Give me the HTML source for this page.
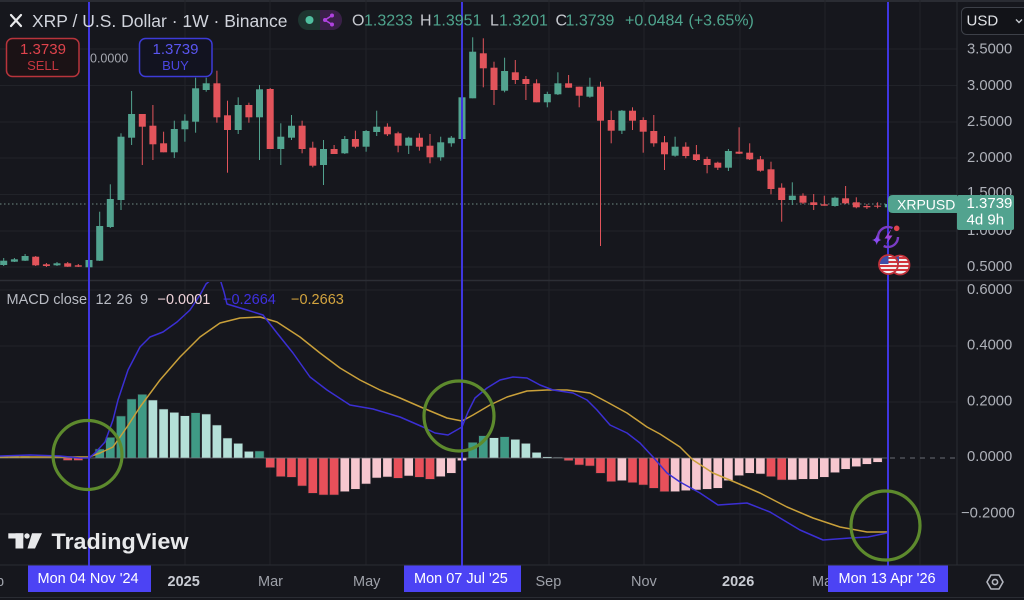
<!DOCTYPE html>
<html>
<head>
<meta charset="utf-8">
<style>
html,body{margin:0;padding:0;background:#16171d;}
body{width:1024px;height:600px;overflow:hidden;font-family:"Liberation Sans",sans-serif;}
svg{display:block;}
text{font-family:"Liberation Sans",sans-serif;dominant-baseline:central;}
</style>
</head>
<body>
<svg width="1024" height="600" viewBox="0 0 1024 600" xmlns="http://www.w3.org/2000/svg">
<defs>
<clipPath id="macdclip"><rect x="0" y="282" width="957" height="283"/></clipPath>
<clipPath id="flag1"><circle cx="888.5" cy="264.5" r="9"/></clipPath>
<clipPath id="flag2"><circle cx="900" cy="265" r="9"/></clipPath>
</defs>
<rect x="0" y="0" width="1024" height="600" fill="#16171d"/>
<rect x="0" y="0" width="1024" height="2" fill="#2a2c33"/>

<!-- grid -->
<g stroke="#212329" stroke-width="1">
<line x1="185" y1="0" x2="185" y2="565"/>
<line x1="270" y1="0" x2="270" y2="565"/>
<line x1="366" y1="0" x2="366" y2="565"/>
<line x1="549" y1="0" x2="549" y2="565"/>
<line x1="644" y1="0" x2="644" y2="565"/>
<line x1="740" y1="0" x2="740" y2="565"/>
<line x1="825" y1="0" x2="825" y2="565"/>
<line x1="920" y1="0" x2="920" y2="565"/>
<line x1="0" y1="49" x2="957" y2="49"/>
<line x1="0" y1="85.5" x2="957" y2="85.5"/>
<line x1="0" y1="122" x2="957" y2="122"/>
<line x1="0" y1="158" x2="957" y2="158"/>
<line x1="0" y1="194.5" x2="957" y2="194.5"/>
<line x1="0" y1="231" x2="957" y2="231"/>
<line x1="0" y1="267" x2="957" y2="267"/>
<line x1="0" y1="290" x2="957" y2="290"/>
<line x1="0" y1="346" x2="957" y2="346"/>
<line x1="0" y1="402" x2="957" y2="402"/>
<line x1="0" y1="514" x2="957" y2="514"/>
</g>
<line x1="0" y1="280.5" x2="1024" y2="280.5" stroke="#2c2e35" stroke-width="1.5"/>
<line x1="957" y1="0" x2="957" y2="565" stroke="#2a2c33" stroke-width="1"/>
<line x1="0" y1="565" x2="1024" y2="565" stroke="#2a2c33" stroke-width="1"/>
<line x1="0" y1="597.5" x2="1024" y2="597.5" stroke="#2a2c33" stroke-width="1"/>

<line x1="0" y1="204" x2="888" y2="204" stroke="#6f8a83" stroke-width="1" stroke-dasharray="1.5,2.5"/>

<!-- green candles -->
<g fill="#52a38f">
<rect x="3.2" y="258" width="1" height="8"/><rect x="0.2" y="260.7" width="7" height="4.3"/>
<rect x="13.9" y="258" width="1" height="4"/><rect x="10.9" y="259.3" width="7" height="2.4"/>
<rect x="24.6" y="254" width="1" height="7"/><rect x="21.6" y="256" width="7" height="4.7"/>
<rect x="56.5" y="262" width="1" height="4"/><rect x="53.5" y="263.3" width="7" height="2"/>
<rect x="88.5" y="259" width="1" height="9"/><rect x="85.5" y="260" width="7" height="7.3"/>
<rect x="99.2" y="211.7" width="1" height="49.3"/><rect x="96.2" y="226" width="7" height="34.7"/>
<rect x="109.8" y="184.3" width="1" height="43.7"/><rect x="106.8" y="199" width="7" height="28"/>
<rect x="120.5" y="133.3" width="1" height="76.7"/><rect x="117.5" y="136.7" width="7" height="63.3"/>
<rect x="131.1" y="91" width="1" height="54"/><rect x="128.1" y="114" width="7" height="23.7"/>
<rect x="173.8" y="120.7" width="1" height="37.3"/><rect x="170.8" y="129" width="7" height="23.3"/>
<rect x="184.4" y="114.3" width="1" height="27.4"/><rect x="181.4" y="120.7" width="7" height="8.6"/>
<rect x="195.1" y="77.7" width="1" height="55"/><rect x="192.1" y="88.3" width="7" height="33.4"/>
<rect x="205.7" y="77.7" width="1" height="14"/><rect x="202.7" y="83.3" width="7" height="6.7"/>
<rect x="237.7" y="97.3" width="1" height="36.7"/><rect x="234.7" y="105" width="7" height="25"/>
<rect x="259" y="85" width="1" height="75"/><rect x="256" y="89.3" width="7" height="28"/>
<rect x="280.3" y="123.3" width="1" height="41.7"/><rect x="277.3" y="136.7" width="7" height="12.3"/>
<rect x="291" y="115" width="1" height="25"/><rect x="288" y="125.7" width="7" height="12"/>
<rect x="323" y="140" width="1" height="45"/><rect x="320" y="149" width="7" height="16"/>
<rect x="344.3" y="136" width="1" height="18"/><rect x="341.3" y="139" width="7" height="14.3"/>
<rect x="365.6" y="130" width="1" height="21.7"/><rect x="362.6" y="131" width="7" height="15.7"/>
<rect x="376.2" y="110.7" width="1" height="25.3"/><rect x="373.2" y="126.7" width="7" height="5.3"/>
<rect x="408.2" y="136.7" width="1" height="17.3"/><rect x="405.2" y="137.7" width="7" height="8"/>
<rect x="440.2" y="136.7" width="1" height="24"/><rect x="437.2" y="142.3" width="7" height="15"/>
<rect x="450.8" y="136" width="1" height="10.7"/><rect x="447.8" y="137.7" width="7" height="5.6"/>
<rect x="461.5" y="86.7" width="1" height="52.3"/><rect x="458.5" y="97.3" width="7" height="41.7"/>
<rect x="472.2" y="37.3" width="1" height="61"/><rect x="469.2" y="51.7" width="7" height="46.6"/>
<rect x="504.1" y="57.7" width="1" height="34.6"/><rect x="501.1" y="71" width="7" height="19.7"/>
<rect x="546.8" y="91.7" width="1" height="15.6"/><rect x="543.8" y="94" width="7" height="8.3"/>
<rect x="557.4" y="72.3" width="1" height="22.7"/><rect x="554.4" y="83.3" width="7" height="11"/>
<rect x="589.4" y="77.7" width="1" height="20"/><rect x="586.4" y="86.7" width="7" height="10"/>
<rect x="621.4" y="110" width="1" height="24"/><rect x="618.4" y="110.7" width="7" height="20"/>
<rect x="674.6" y="136.7" width="1" height="20"/><rect x="671.6" y="146.7" width="7" height="9"/>
<rect x="727.9" y="149" width="1" height="22"/><rect x="724.9" y="151" width="7" height="16.7"/>
<rect x="791.8" y="182.3" width="1" height="22.7"/><rect x="788.8" y="195.7" width="7" height="4.3"/>
<rect x="834.5" y="196.7" width="1" height="10"/><rect x="831.5" y="197.7" width="7" height="8.3"/>
<rect x="887.8" y="204" width="1" height="4"/><rect x="884.8" y="204" width="7" height="3.3"/>
</g>
<!-- red candles -->
<g fill="#e2545b">
<rect x="35.2" y="256" width="1" height="10"/><rect x="32.2" y="256.7" width="7" height="8.6"/>
<rect x="45.9" y="263" width="1" height="4"/><rect x="42.9" y="264.3" width="7" height="1.7"/>
<rect x="67.2" y="262" width="1" height="5"/><rect x="64.2" y="263.3" width="7" height="3.4"/>
<rect x="77.8" y="264" width="1" height="3"/><rect x="74.8" y="265.3" width="7" height="1.4"/>
<rect x="141.8" y="114" width="1" height="51"/><rect x="138.8" y="114" width="7" height="12.7"/>
<rect x="152.4" y="105" width="1" height="55"/><rect x="149.4" y="125.7" width="7" height="18.6"/>
<rect x="163.1" y="131.7" width="1" height="20.6"/><rect x="160.1" y="143.3" width="7" height="9"/>
<rect x="216.4" y="70.7" width="1" height="52"/><rect x="213.4" y="83.3" width="7" height="34"/>
<rect x="227" y="100.7" width="1" height="72"/><rect x="224" y="115.3" width="7" height="14.7"/>
<rect x="248.4" y="102.7" width="1" height="20"/><rect x="245.4" y="105" width="7" height="12.3"/>
<rect x="269.7" y="88" width="1" height="61"/><rect x="266.7" y="89" width="7" height="60"/>
<rect x="301.6" y="120.7" width="1" height="32.6"/><rect x="298.6" y="125.7" width="7" height="23.3"/>
<rect x="312.3" y="141.7" width="1" height="25.6"/><rect x="309.3" y="147.7" width="7" height="18"/>
<rect x="333.6" y="145" width="1" height="9"/><rect x="330.6" y="149" width="7" height="5"/>
<rect x="354.9" y="130.7" width="1" height="17.6"/><rect x="351.9" y="139" width="7" height="7.7"/>
<rect x="386.9" y="123.3" width="1" height="12.7"/><rect x="383.9" y="126.7" width="7" height="7.6"/>
<rect x="397.6" y="131.7" width="1" height="20.6"/><rect x="394.6" y="133.3" width="7" height="12.4"/>
<rect x="418.9" y="133.3" width="1" height="17.4"/><rect x="415.9" y="137.7" width="7" height="9"/>
<rect x="429.5" y="134" width="1" height="29.3"/><rect x="426.5" y="145.7" width="7" height="11.6"/>
<rect x="482.8" y="38.3" width="1" height="49"/><rect x="479.8" y="53.3" width="7" height="15"/>
<rect x="493.5" y="61.7" width="1" height="43.3"/><rect x="490.5" y="67.7" width="7" height="22.3"/>
<rect x="514.8" y="60" width="1" height="24"/><rect x="511.8" y="72.3" width="7" height="7.7"/>
<rect x="525.4" y="76" width="1" height="24"/><rect x="522.4" y="79" width="7" height="5"/>
<rect x="536.1" y="79.3" width="1" height="23"/><rect x="533.1" y="83.3" width="7" height="19"/>
<rect x="568.1" y="75" width="1" height="12.7"/><rect x="565.1" y="83.3" width="7" height="4.4"/>
<rect x="578.7" y="86.7" width="1" height="20.6"/><rect x="575.7" y="86.7" width="7" height="9"/>
<rect x="600" y="81.7" width="1" height="164.3"/><rect x="597" y="86.7" width="7" height="34"/>
<rect x="610.7" y="110.7" width="1" height="32.6"/><rect x="607.7" y="120" width="7" height="10.7"/>
<rect x="632" y="107.3" width="1" height="22.7"/><rect x="629" y="110.7" width="7" height="10"/>
<rect x="642.7" y="117.3" width="1" height="35.4"/><rect x="639.7" y="120" width="7" height="11.7"/>
<rect x="653.3" y="115" width="1" height="31.7"/><rect x="650.3" y="131" width="7" height="12.3"/>
<rect x="664" y="136" width="1" height="34"/><rect x="661" y="142.3" width="7" height="12"/>
<rect x="685.3" y="142.3" width="1" height="16"/><rect x="682.3" y="146.7" width="7" height="9.3"/>
<rect x="695.9" y="145" width="1" height="16"/><rect x="692.9" y="154.3" width="7" height="5.7"/>
<rect x="706.6" y="156.7" width="1" height="16.6"/><rect x="703.6" y="159" width="7" height="6"/>
<rect x="717.3" y="161.7" width="1" height="8.3"/><rect x="714.3" y="162.7" width="7" height="5"/>
<rect x="738.6" y="127.3" width="1" height="26.7"/><rect x="735.6" y="151.7" width="7" height="2"/>
<rect x="749.2" y="143.3" width="1" height="16.7"/><rect x="746.2" y="152.7" width="7" height="6.6"/>
<rect x="759.9" y="156" width="1" height="15.7"/><rect x="756.9" y="159.3" width="7" height="11.4"/>
<rect x="770.5" y="161.7" width="1" height="32.6"/><rect x="767.5" y="169.3" width="7" height="19.7"/>
<rect x="781.2" y="183.3" width="1" height="38.4"/><rect x="778.2" y="187.7" width="7" height="12.3"/>
<rect x="802.5" y="193.3" width="1" height="10.7"/><rect x="799.5" y="195.7" width="7" height="7"/>
<rect x="813.2" y="194" width="1" height="16"/><rect x="810.2" y="202.3" width="7" height="2.7"/>
<rect x="823.8" y="195.7" width="1" height="10"/><rect x="820.8" y="204.3" width="7" height="1.4"/>
<rect x="845.1" y="186" width="1" height="18"/><rect x="842.1" y="198.3" width="7" height="5"/>
<rect x="855.8" y="197.3" width="1" height="11"/><rect x="852.8" y="202.3" width="7" height="5"/>
<rect x="866.4" y="204" width="1" height="5"/><rect x="863.4" y="206" width="7" height="1.3"/>
<rect x="877.1" y="202.3" width="1" height="6"/><rect x="874.1" y="205.7" width="7" height="1"/>
</g>

<!-- MACD histogram -->
<g stroke="#2a2b31" stroke-width="0.6">
<g fill="#3f9a85">
<rect x="-0.9" y="457" width="9.2" height="1"/>
<rect x="9.8" y="455.5" width="9.2" height="2.5"/>
<rect x="20.5" y="456" width="9.2" height="2"/>
<rect x="95.1" y="449" width="9.2" height="9"/>
<rect x="105.7" y="437.3" width="9.2" height="20.7"/>
<rect x="116.4" y="416" width="9.2" height="42"/>
<rect x="127" y="399" width="9.2" height="59"/>
<rect x="137.7" y="394.3" width="9.2" height="63.7"/>
<rect x="191" y="412.7" width="9.2" height="45.3"/>
<rect x="254.9" y="451" width="9.2" height="7"/>
<rect x="468.1" y="442.3" width="9.2" height="15.7"/>
<rect x="478.7" y="435.7" width="9.2" height="22.3"/>
<rect x="500" y="436.7" width="9.2" height="21.3"/>
</g>
<g fill="#b4e0d8">
<rect x="148.3" y="400" width="9.2" height="58"/>
<rect x="159" y="409" width="9.2" height="49"/>
<rect x="169.7" y="412.3" width="9.2" height="45.7"/>
<rect x="180.3" y="415.7" width="9.2" height="42.3"/>
<rect x="201.6" y="414" width="9.2" height="44"/>
<rect x="212.3" y="425" width="9.2" height="33"/>
<rect x="222.9" y="438" width="9.2" height="20"/>
<rect x="233.6" y="443.3" width="9.2" height="14.7"/>
<rect x="244.3" y="451.3" width="9.2" height="6.7"/>
<rect x="489.4" y="437.7" width="9.2" height="20.3"/>
<rect x="510.7" y="439.3" width="9.2" height="18.7"/>
<rect x="521.3" y="443.3" width="9.2" height="14.7"/>
<rect x="532" y="452.3" width="9.2" height="5.7"/>
<rect x="542.7" y="456.7" width="9.2" height="1.3"/>
<rect x="553.3" y="457.2" width="9.2" height="0.8"/>
</g>
<g fill="#e8505a">
<rect x="63.1" y="458" width="9.2" height="2.5"/>
<rect x="73.7" y="458" width="9.2" height="2.5"/>
<rect x="265.6" y="458" width="9.2" height="9.7"/>
<rect x="276.2" y="458" width="9.2" height="18.7"/>
<rect x="286.9" y="458" width="9.2" height="19.3"/>
<rect x="297.5" y="458" width="9.2" height="28"/>
<rect x="308.2" y="458" width="9.2" height="35.3"/>
<rect x="318.9" y="458" width="9.2" height="37"/>
<rect x="329.5" y="458" width="9.2" height="37"/>
<rect x="393.5" y="458" width="9.2" height="20.3"/>
<rect x="414.8" y="458" width="9.2" height="19.3"/>
<rect x="425.4" y="458" width="9.2" height="21.3"/>
<rect x="564" y="458" width="9.2" height="2.7"/>
<rect x="574.6" y="458" width="9.2" height="7"/>
<rect x="585.3" y="458" width="9.2" height="8"/>
<rect x="595.9" y="458" width="9.2" height="15.3"/>
<rect x="606.6" y="458" width="9.2" height="23.7"/>
<rect x="627.9" y="458" width="9.2" height="24.7"/>
<rect x="638.6" y="458" width="9.2" height="27"/>
<rect x="649.2" y="458" width="9.2" height="30.3"/>
<rect x="659.9" y="458" width="9.2" height="33.7"/>
<rect x="766.4" y="458" width="9.2" height="18.7"/>
<rect x="777.1" y="458" width="9.2" height="22"/>
</g>
<g fill="#f7c7cf">
<rect x="340.2" y="458" width="9.2" height="33.7"/>
<rect x="350.8" y="458" width="9.2" height="31.3"/>
<rect x="361.5" y="458" width="9.2" height="26"/>
<rect x="372.1" y="458" width="9.2" height="20"/>
<rect x="382.8" y="458" width="9.2" height="19"/>
<rect x="404.1" y="458" width="9.2" height="18"/>
<rect x="436.1" y="458" width="9.2" height="18.7"/>
<rect x="446.7" y="458" width="9.2" height="15.3"/>
<rect x="457.4" y="458" width="9.2" height="2.7"/>
<rect x="617.3" y="458" width="9.2" height="22.7"/>
<rect x="670.5" y="458" width="9.2" height="33.7"/>
<rect x="681.2" y="458" width="9.2" height="32.7"/>
<rect x="691.8" y="458" width="9.2" height="32"/>
<rect x="702.5" y="458" width="9.2" height="31.3"/>
<rect x="713.2" y="458" width="9.2" height="30.3"/>
<rect x="723.8" y="458" width="9.2" height="22.7"/>
<rect x="734.5" y="458" width="9.2" height="17.7"/>
<rect x="745.1" y="458" width="9.2" height="15.3"/>
<rect x="755.8" y="458" width="9.2" height="16"/>
<rect x="787.7" y="458" width="9.2" height="22"/>
<rect x="798.4" y="458" width="9.2" height="21.3"/>
<rect x="809.1" y="458" width="9.2" height="21.3"/>
<rect x="819.7" y="458" width="9.2" height="19.3"/>
<rect x="830.4" y="458" width="9.2" height="14.7"/>
<rect x="841" y="458" width="9.2" height="11.3"/>
<rect x="851.7" y="458" width="9.2" height="8.7"/>
<rect x="862.3" y="458" width="9.2" height="6.3"/>
<rect x="873" y="458" width="9.2" height="4.3"/>
</g>
</g>
<line x1="0" y1="458" x2="888" y2="458" stroke="#cfd2d8" stroke-width="1" opacity="0.35"/>
<line x1="890" y1="458" x2="957" y2="458" stroke="#6a6d75" stroke-width="1" stroke-dasharray="5,5"/>

<!-- MACD & signal lines -->
<g clip-path="url(#macdclip)" fill="none" stroke-width="1.5" stroke-linejoin="round">
<polyline stroke="#c9a03a" points="0,457 60,457 89,457 100,453 113,447 127,427 140,407 160,380 180,357 200,337 220,323 240,318 260,317 277,322 300,337 320,353 340,368 360,380 380,390 400,398 423,408 447,418 462,421 473,415 490,405 507,397 527,391 547,390 567,390 590,393 607,402 627,413 647,427 660,434 680,447 693,460 713,473 737,483 760,493 787,507 813,518 840,527 867,532 887,532"/>
<polyline stroke="#3b2fd4" points="0,456 30,455 60,456 80,458 89,458 95,453 105,442 113,420 118,400 128,370 140,347 150,337 163,332 177,322 190,310 200,295 206,284 212,279 220,279 224,292 227,304 247,310 263,315 277,333 293,353 310,377 327,390 350,405 373,409 400,417 423,427 435,433 448,435 462,427 468,412 475,398 487,388 500,380 513,377 527,378 540,385 553,390 573,393 587,400 597,410 610,425 627,433 640,443 653,457 667,473 680,482 700,493 718,505 747,503 770,512 800,530 823,540 850,538 868,537 887,533"/>
</g>

<!-- blue vertical lines -->
<g stroke="#3f36e0" stroke-width="2">
<line x1="89" y1="2" x2="89" y2="566"/>
<line x1="462" y1="2" x2="462" y2="566"/>
<line x1="888" y1="2" x2="888" y2="566"/>
</g>

<!-- green circles -->
<g fill="none" stroke="#5d8a2d" stroke-width="3.2">
<circle cx="87.5" cy="455" r="34.5"/>
<circle cx="459" cy="416" r="35"/>
<circle cx="885.5" cy="525.5" r="34.5"/>
</g>

<!-- header -->
<g stroke="#e8e9eb" stroke-width="2.2" stroke-linecap="round">
<line x1="11" y1="15" x2="21" y2="26"/>
<line x1="21" y1="15" x2="11" y2="26"/>
</g>
<text x="32" y="21" font-size="17.5" fill="#d1d4dc">XRP / U.S. Dollar · 1W · Binance</text>
<rect x="298" y="10" width="44" height="20" rx="10" fill="#1e3530"/>
<path d="M320 10 H332 A10 10 0 0 1 332 30 H320 Z" fill="#3a1f48"/>
<circle cx="309.5" cy="20" r="4" fill="#4fbf9f"/>
<g fill="#b042e0" stroke="#b042e0" stroke-width="1.6">
<circle cx="325" cy="20" r="2" stroke="none"/>
<circle cx="332" cy="15.5" r="2" stroke="none"/>
<circle cx="332" cy="24.5" r="2" stroke="none"/>
<polyline points="332,15.5 325,20 332,24.5" fill="none"/>
</g>
<g font-size="16">
<text x="352" y="21" fill="#c5c8ce">O</text><text x="364" y="21" fill="#4fa58e">1.3233</text>
<text x="420" y="21" fill="#c5c8ce">H</text><text x="432.5" y="21" fill="#4fa58e">1.3951</text>
<text x="490" y="21" fill="#c5c8ce">L</text><text x="499" y="21" fill="#4fa58e">1.3201</text>
<text x="555.5" y="21" fill="#c5c8ce">C</text><text x="565.5" y="21" fill="#4fa58e">1.3739</text>
<text x="625" y="21" fill="#4fa58e">+0.0484</text>
<text x="688.5" y="21" fill="#4fa58e">(+3.65%)</text>
</g>

<!-- USD button -->
<rect x="961.5" y="7.5" width="72" height="27" rx="5" fill="#121318" stroke="#3d4048" stroke-width="1"/>
<text x="966.5" y="21" font-size="15" fill="#e0e2e6">USD</text>
<polyline points="1016,19.5 1019,22.5 1022,19.5" fill="none" stroke="#c5c8ce" stroke-width="1.4"/>

<!-- SELL / BUY -->
<rect x="6.5" y="38.5" width="72.5" height="38" rx="6" fill="#1b1215" stroke="#b8343c" stroke-width="1.5"/>
<text x="43" y="49.5" font-size="15" fill="#e0434c" text-anchor="middle">1.3739</text>
<text x="43" y="65.5" font-size="13" fill="#c6363f" text-anchor="middle">SELL</text>
<text x="90" y="58.5" font-size="12.5" fill="#a5a8b0">0.0000</text>
<rect x="139.5" y="38.5" width="72.5" height="38" rx="6" fill="#121320" stroke="#3d3bd8" stroke-width="1.5"/>
<text x="175.5" y="49.5" font-size="15" fill="#5a55f0" text-anchor="middle">1.3739</text>
<text x="175.5" y="65.5" font-size="13" fill="#4b46e0" text-anchor="middle">BUY</text>

<!-- price axis labels -->
<g font-size="14.8" fill="#aeb1b9">
<text x="967" y="49.5">3.5000</text>
<text x="967" y="86">3.0000</text>
<text x="967" y="122">2.5000</text>
<text x="967" y="158">2.0000</text>
<text x="967" y="193">1.5000</text>
<text x="967" y="231">1.0000</text>
<text x="967" y="267">0.5000</text>
<text x="967" y="290">0.6000</text>
<text x="967" y="345.5">0.4000</text>
<text x="967" y="401.5">0.2000</text>
<text x="967" y="457">0.0000</text>
<text x="961" y="513.5">−0.2000</text>
</g>

<!-- price label -->
<path d="M893 195 H957 V213 H893 Q888 213 888 208 V200 Q888 195 893 195 Z" fill="#52a38f"/>
<text x="897" y="204.5" font-size="14" fill="#ffffff">XRPUSD</text>
<rect x="957" y="195" width="57" height="35" rx="2" fill="#52a38f"/>
<text x="966.5" y="203.5" font-size="15" fill="#ffffff">1.3739</text>
<text x="966.5" y="220" font-size="15" fill="#ffffff">4d 9h</text>

<!-- event icons -->
<circle cx="888" cy="237" r="10" fill="none" stroke="#7a3cc4" stroke-width="2.4" stroke-dasharray="20.1 7 24.4 11.3"/>
<path d="M890.5 230 L884.5 238.5 L888.5 238.5 L886 244.5 L892.5 235.5 L888.5 235.5 L891 230 Z" fill="#a244d8"/>
<circle cx="896.7" cy="228.3" r="2.8" fill="#e0434c"/>
<path d="M876.7 235 Q877.5 239.5 881.5 240 Q877.5 240.5 876.7 245 Q876 240.5 872 240 Q876 239.5 876.7 235 Z" fill="#8a4af0"/>
<g clip-path="url(#flag2)">
<rect x="890" y="255" width="20" height="20" fill="#f1f1f1"/>
<rect x="890" y="257" width="20" height="2" fill="#d2343c"/>
<rect x="890" y="261" width="20" height="2" fill="#d2343c"/>
<rect x="890" y="265" width="20" height="2" fill="#d2343c"/>
<rect x="890" y="269" width="20" height="2" fill="#d2343c"/>
<rect x="890" y="255" width="9" height="9" fill="#3d4fa8"/>
</g>
<circle cx="900" cy="265" r="9.5" fill="none" stroke="#c0313a" stroke-width="1.8"/>
<g clip-path="url(#flag1)">
<rect x="879" y="255" width="20" height="20" fill="#f1f1f1"/>
<rect x="879" y="257" width="20" height="2" fill="#d2343c"/>
<rect x="879" y="261" width="20" height="2" fill="#d2343c"/>
<rect x="879" y="265" width="20" height="2" fill="#d2343c"/>
<rect x="879" y="269" width="20" height="2" fill="#d2343c"/>
<rect x="879" y="255" width="9.5" height="9" fill="#3d4fa8"/>
</g>
<circle cx="888.5" cy="264.5" r="9.5" fill="none" stroke="#c0313a" stroke-width="1.8"/>

<!-- MACD legend -->
<g font-size="14.5">
<text x="6.5" y="300" fill="#b8bbc3">MACD close</text>
<text x="95.5" y="300" fill="#b8bbc3">12</text>
<text x="116.5" y="300" fill="#b8bbc3">26</text>
<text x="140" y="300" fill="#b8bbc3">9</text>
<text x="157.5" y="300" fill="#f0d4da">−0.0001</text>
<text x="223" y="300" fill="#3f30e0">−0.2664</text>
<text x="291" y="300" fill="#d3a43e">−0.2663</text>
</g>

<!-- TradingView logo -->
<g fill="#e8e9eb">
<rect x="8.3" y="533.3" width="15" height="5.2"/>
<rect x="15.5" y="533.3" width="7.8" height="15.2"/>
<circle cx="27" cy="536" r="2.7"/>
<path d="M32 533.3 H42 L35 548.5 H27.5 Z"/>
</g>
<text x="51.5" y="541.5" font-size="22" font-weight="bold" fill="#e8e9eb" textLength="137" lengthAdjust="spacingAndGlyphs">TradingView</text>

<!-- time axis -->
<g font-size="14.5" fill="#9ea1a9">
<text x="-4" y="582">p</text>
<text x="167.5" y="582" font-weight="bold" fill="#c9ccd3">2025</text>
<text x="258" y="582">Mar</text>
<text x="353" y="582">May</text>
<text x="535.5" y="582">Sep</text>
<text x="631" y="582">Nov</text>
<text x="722" y="582" font-weight="bold" fill="#c9ccd3">2026</text>
<text x="812" y="582">Ma</text>
</g>
<rect x="28" y="565.5" width="123" height="26.5" fill="#4c43f4"/>
<text x="37.5" y="579" font-size="14.5" fill="#ffffff">Mon 04 Nov '24</text>
<rect x="404" y="565.5" width="117" height="26.5" fill="#4c43f4"/>
<text x="414" y="579" font-size="14.5" fill="#ffffff">Mon 07 Jul '25</text>
<rect x="828" y="565.5" width="120" height="26.5" fill="#4c43f4"/>
<text x="838.5" y="579" font-size="14.5" fill="#ffffff">Mon 13 Apr '26</text>

<!-- settings gear -->
<path d="M991 575 H999 L1003 582 L999 589 H991 L987 582 Z" fill="none" stroke="#b2b5be" stroke-width="1.6" stroke-linejoin="round"/>
<circle cx="995" cy="582" r="2.6" fill="none" stroke="#b2b5be" stroke-width="1.6"/>
</svg>
</body>
</html>
